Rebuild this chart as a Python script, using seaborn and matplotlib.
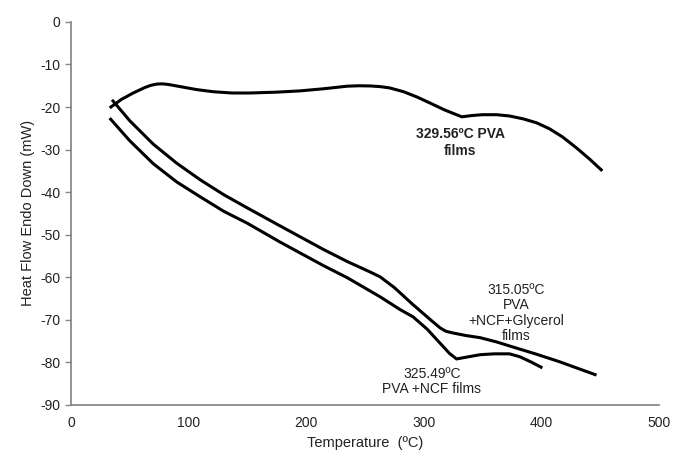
import matplotlib
matplotlib.use("Agg")
import matplotlib.pyplot as plt
import seaborn as sns
import pandas as pd

# PVA films
pva_x = [33, 43, 53, 63, 68, 73, 78, 83, 93, 107, 121, 137, 152, 175, 195, 215, 235, 245, 255, 263, 271, 283, 294, 305, 318, 332.5, 341, 350, 362, 373, 385, 396, 407, 418, 430, 441, 452]
pva_y = [-20.2, -18.2, -16.7, -15.4, -14.9, -14.6, -14.55, -14.7, -15.2, -15.9, -16.4, -16.7, -16.7, -16.5, -16.2, -15.7, -15.1, -15.0, -15.05, -15.2, -15.5, -16.4, -17.6, -19.0, -20.7, -22.3, -22.0, -21.8, -21.8, -22.1, -22.8, -23.7, -25.1, -27.0, -29.6, -32.2, -35.0]

# PVA + NCF + Glycerol films
gly_x = [35, 50, 70, 90, 110, 130, 150, 177.7, 195, 215, 235, 254, 263, 275, 290, 305, 314, 319, 325, 336, 348, 362, 376, 395, 415, 432, 447]
gly_y = [-18.3, -23.2, -28.7, -33.2, -37.1, -40.6, -43.7, -47.9, -50.5, -53.5, -56.3, -58.7, -59.9, -62.4, -66.2, -69.8, -71.9, -72.7, -73.1, -73.7, -74.2, -75.2, -76.4, -78.0, -79.8, -81.5, -83.0]

# PVA + NCF films
ncf_x = [33, 50, 70, 90, 110, 130, 150, 177.7, 195, 215, 235, 263, 280, 291, 303, 315, 322, 328, 336, 348, 360, 373, 382, 392, 401]
ncf_y = [-22.6, -27.9, -33.3, -37.6, -41.1, -44.5, -47.3, -51.7, -54.3, -57.3, -60.1, -64.6, -67.6, -69.3, -72.2, -75.8, -77.9, -79.2, -78.8, -78.2, -78.0, -78.0, -78.7, -80.0, -81.3]

labels = ["329.56\u00baC PVA\nfilms",
          "315.05\u00baC\nPVA\n+NCF+Glycerol\nfilms",
          "325.49\u00baC\nPVA +NCF films"]

x_ticks = [0, 100, 200, 300, 400, 500]
y_ticks = [0, -10, -20, -30, -40, -50, -60, -70, -80, -90]

sns.set_style("white")
plt.rcParams['font.family'] = ['Liberation Sans', 'DejaVu Sans']
plt.rcParams['axes.unicode_minus'] = False

fig = plt.figure(figsize=(6.75, 4.57), dpi=100)
ax = fig.add_axes([0.105, 0.114, 0.871, 0.838])

for xs, ys in [(pva_x, pva_y), (gly_x, gly_y), (ncf_x, ncf_y)]:
    df = pd.DataFrame({"T": xs, "H": ys})
    sns.lineplot(data=df, x="T", y="H", sort=False, color="black", lw=2.2, ax=ax,
                 solid_joinstyle='round', solid_capstyle='butt')

ax.set_xlim(0, 500)
ax.set_ylim(-90, 0)
ax.set_xticks(x_ticks)
ax.set_yticks(y_ticks)
ax.tick_params(axis='both', labelsize=10, colors='#222222')
ax.tick_params(axis='y', length=4, width=1, color='#888888', direction='out', left=True)
ax.tick_params(axis='x', length=0, pad=8)
for s in ['top', 'right']:
    ax.spines[s].set_visible(False)
for s in ['left', 'bottom']:
    ax.spines[s].set_color('#808080')
    ax.spines[s].set_linewidth(1.2)

ax.set_xlabel("Temperature  (\u00baC)", fontsize=10.5, color='#222222')
ax.set_ylabel("Heat Flow Endo Down (mW)", fontsize=10.5, color='#222222')

ax.text(331, -28.4, labels[0], ha='center', va='center', fontsize=10, fontweight='bold', color='#222222', linespacing=1.3)
ax.text(379, -68.4, labels[1], ha='center', va='center', fontsize=10, color='#222222', linespacing=1.15)
ax.text(307, -84.4, labels[2], ha='center', va='center', fontsize=10, color='#222222', linespacing=1.1)

fig.savefig("out.png", dpi=100)
